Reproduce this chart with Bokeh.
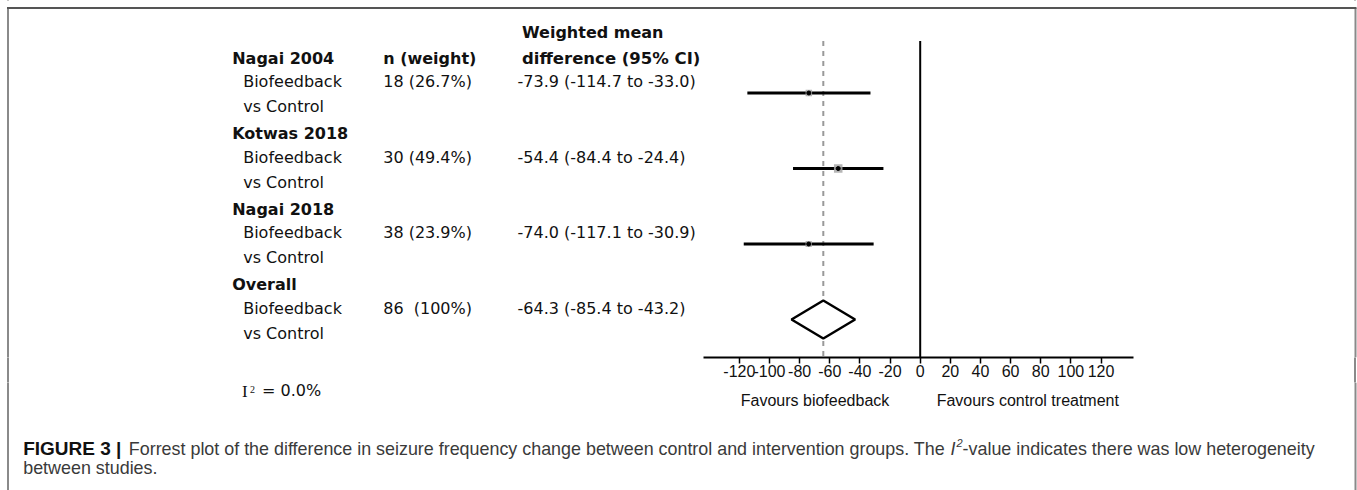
from bokeh.plotting import figure
from bokeh.models import Range1d, LinearAxis, FixedTicker, ColumnDataSource
from bokeh.layouts import column
from bokeh.core.properties import value
from bokeh.embed import file_html
from bokeh.resources import INLINE

# ---------------- data ----------------
studies = ["Nagai 2004", "Kotwas 2018", "Nagai 2018"]
comparison = ["Biofeedback", "vs Control"]
n_patients = [18, 30, 38]
weights = [26.7, 49.4, 23.9]
wmd = [-73.9, -54.4, -74.0]
ci_low = [-114.7, -84.4, -117.1]
ci_high = [-33.0, -24.4, -30.9]

overall_label = "Overall"
overall_n = 86
overall_weight = 100
overall_wmd = -64.3
overall_low = -85.4
overall_high = -43.2

i2_value = 0.0
ticks = [-120, -100, -80, -60, -40, -20, 0, 20, 40, 60, 80, 100, 120]
favours = ["Favours biofeedback", "Favours control treatment"]
favours_x = [-69.8, 71.4]
header_n = "n (weight)"
header_ci = ["Weighted mean", "difference (95% CI)"]

caption_bold = "FIGURE 3 |"
caption_a = "Forrest plot of the difference in seizure frequency change between control and intervention groups. The "
caption_i = "I"
caption_sup = "2"
caption_b = "-value indicates there was low heterogeneity"
caption_line2 = "between studies."

# ---------------- layout constants ----------------
W = 1357
H_TOP = 382          # upper figure (plot + axis strip)
H_BOT = 490 - H_TOP  # lower figure (labels + caption)
FRAME_BOTTOM = 357
FONT = "DejaVu Sans"
SANS = "Liberation Sans"
X0_PX, PX_PER_UNIT = 919.7, 1.5069
XR = (-X0_PX / PX_PER_UNIT, (W - X0_PX) / PX_PER_UNIT)
BORDER_X = [7.5, 1355.0]
BORDER_TOP = 7.5
BORDER_COLOR = "#8a8a8a"

def make_fig(height, y0, y1, bottom_border):
    f = figure(width=W, height=height, output_backend="svg", toolbar_location=None,
               x_range=Range1d(*XR), y_range=Range1d(y1, y0),
               x_axis_type=None, y_axis_type=None,
               min_border_left=0, min_border_right=0, min_border_top=0,
               min_border_bottom=bottom_border)
    f.extra_x_ranges = {"page": Range1d(0, W)}
    f.outline_line_color = None
    f.background_fill_color = "white"
    f.border_fill_color = None
    f.grid.visible = False
    return f

p = make_fig(H_TOP, 0, FRAME_BOTTOM, H_TOP - FRAME_BOTTOM)
q = make_fig(H_BOT, H_TOP, 490, 0)

# x axis with bounds
ax = LinearAxis(ticker=FixedTicker(ticks=ticks), bounds=(-144.0, 141.7),
                major_label_overrides={t: str(t) for t in ticks})
ax.axis_line_width = 2
ax.axis_line_color = "black"
ax.major_tick_out = 6
ax.major_tick_in = 0
ax.major_tick_line_width = 1.5
ax.major_tick_line_color = "black"
ax.minor_tick_line_color = None
ax.major_label_text_font = SANS
ax.major_label_text_font_size = "16px"
ax.major_label_text_color = "#111111"
ax.major_label_standoff = 1
p.add_layout(ax, "below")

# rows
name_y0 = 57.5
group_step = 75.5
names = studies + [overall_label]
name_y = [name_y0 + group_step * g for g in range(len(names))]
bio_y = [y + 23.7 for y in name_y]
vs_y = [y + 48.7 for y in name_y]
forest_y = [y + 35 for y in name_y]

n_txt = [f"{n} ({w}%)" for n, w in zip(n_patients, weights)] + [f"{overall_n}\u00a0 ({overall_weight}%)"]
ci_txt = [f"{m:.1f} ({l:.1f} to {h:.1f})" for m, l, h in
          zip(wmd + [overall_wmd], ci_low + [overall_low], ci_high + [overall_high])]

COL_NAME, COL_SUB, COL_N, COL_CI, COL_HEAD_CI = 231.7, 242.7, 382.7, 517.0, 521.5

def add_text(fig, xs, ys, texts, bold=False, italic=False, font=FONT, size="16px",
             color="#111111", page=True, align="left"):
    src = ColumnDataSource(dict(x=xs, y=ys, t=texts))
    style = "bold" if bold else ("italic" if italic else "normal")
    kw = dict(x_range_name="page") if page else {}
    fig.text(x="x", y="y", text="t", source=src,
             text_font=value(font), text_font_size=size, text_color=color,
             text_font_style=style, text_align=align, text_baseline="middle", **kw)

# headers
add_text(p, [COL_HEAD_CI], [32], [header_ci[0]], bold=True)
add_text(p, [COL_N], [name_y0], [header_n], bold=True)
add_text(p, [COL_HEAD_CI], [name_y0], [header_ci[1]], bold=True, size="16.5px")
# study rows
add_text(p, [COL_NAME] * len(names), name_y, names, bold=True)
add_text(p, [COL_SUB] * len(names), bio_y, [comparison[0]] * len(names))
add_text(p, [COL_SUB] * len(names), vs_y, [comparison[1]] * len(names))
add_text(p, [COL_N] * len(names), bio_y, n_txt)
add_text(p, [COL_CI] * len(names), bio_y, ci_txt)

# reference lines
top_y = 40.5
p.segment(x0=[0], y0=[top_y], x1=[0], y1=[FRAME_BOTTOM], line_color="black", line_width=2)
p.segment(x0=[overall_wmd], y0=[top_y], x1=[overall_wmd], y1=[FRAME_BOTTOM],
          line_color="#999999", line_width=2, line_dash="5 5")

# study CIs
sy = forest_y[:3]
p.segment(x0=ci_low, y0=sy, x1=ci_high, y1=sy, line_color="black", line_width=3)
sizes = [1.1 * w ** 0.5 + 0.8 for w in weights]
p.scatter(x=wmd, y=sy, size=sizes, marker="square", fill_color="#a8a8a8",
          line_color=None, fill_alpha=0.85)
p.scatter(x=wmd, y=sy, size=4, marker="circle", color="black")

# overall diamond
oy = forest_y[3]
half_h = 19
p.patch(x=[overall_low, overall_wmd, overall_high, overall_wmd],
        y=[oy, oy - half_h, oy, oy + half_h],
        fill_color="white", line_color="black", line_width=2.5)

# favours labels (data x positions)
add_text(q, favours_x, [400, 400], favours, font=SANS, page=False, align="center")

# I^2
add_text(q, [241.5], [390.5], ["I"], font="Liberation Serif", size="17px")
add_text(q, [249.5], [388.5], ["2"], font="Liberation Serif", size="10px")
add_text(q, [261.5], [390], [f"= {i2_value:.1f}%"])

# caption
CS = 17.9
CS_BOLD = 19.0
arial = {' ': 278, '-': 333, '.': 278, '|': 260, '2': 556, '3': 556,
         'a': 556, 'b': 556, 'c': 500, 'd': 556, 'e': 556, 'f': 278, 'g': 556, 'h': 556,
         'i': 222, 'j': 222, 'k': 500, 'l': 222, 'm': 833, 'n': 556, 'o': 556, 'p': 556,
         'q': 556, 'r': 333, 's': 500, 't': 278, 'u': 556, 'v': 500, 'w': 722, 'x': 500,
         'y': 500, 'z': 500, 'F': 611, 'T': 611, 'I': 278}
def tw(s, size):
    return sum(arial.get(c, 556) for c in s) / 1000.0 * size

cap_y1, cap_y2 = 448, 467
x_a = 128.3
x_i = x_a + tw(caption_a, CS)
x_sup = x_i + tw(caption_i, CS) + 0.8
x_b = x_sup + tw(caption_sup, CS * 0.62)
add_text(q, [22.7], [cap_y1], [caption_bold], bold=True, font=SANS, size=f"{CS_BOLD}px")
add_text(q, [x_a], [cap_y1], [caption_a], font=SANS, size=f"{CS}px", color="#3a3a3a")
add_text(q, [x_i], [cap_y1], [caption_i], italic=True, font=SANS, size=f"{CS}px", color="#3a3a3a")
add_text(q, [x_sup], [cap_y1 - 6], [caption_sup], italic=True, font=SANS,
         size=f"{CS*0.62:.1f}px", color="#3a3a3a")
add_text(q, [x_b], [cap_y1], [caption_b], font=SANS, size=f"{CS}px", color="#3a3a3a")
add_text(q, [22.7], [cap_y2], [caption_line2], font=SANS, size=f"{CS}px", color="#3a3a3a")

# outer frame
p.segment(x0=BORDER_X, y0=[BORDER_TOP] * 2, x1=BORDER_X, y1=[FRAME_BOTTOM] * 2,
          x_range_name="page", line_color=BORDER_COLOR, line_width=2)
q.segment(x0=BORDER_X, y0=[H_TOP] * 2, x1=BORDER_X, y1=[490] * 2,
          x_range_name="page", line_color=BORDER_COLOR, line_width=2)
p.segment(x0=[BORDER_X[0] - 1], y0=[BORDER_TOP], x1=[BORDER_X[1] + 1], y1=[BORDER_TOP],
          x_range_name="page", line_color="#555555", line_width=1.8)

layout = column(p, q, spacing=0)
# continue the side borders through the axis strip (transparent border area)
layout.styles = {
    "background-color": "white",
    "background-image": f"linear-gradient({BORDER_COLOR},{BORDER_COLOR}), linear-gradient({BORDER_COLOR},{BORDER_COLOR})",
    "background-size": "2px 100%, 2px 100%",
    "background-position": f"{BORDER_X[0]-1}px 0px, {BORDER_X[1]-1}px 0px",
    "background-repeat": "no-repeat",
}
open("out.html", "w").write(file_html(layout, INLINE))
